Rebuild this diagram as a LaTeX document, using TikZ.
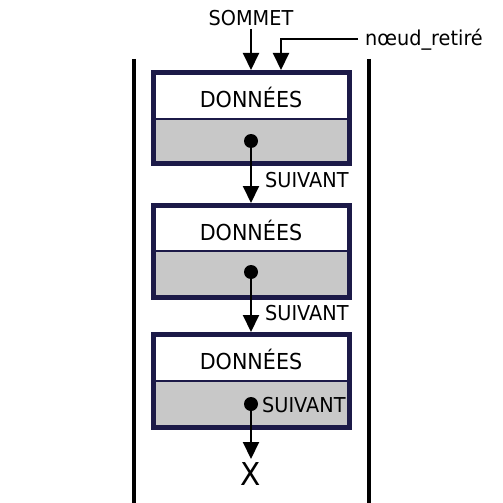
\documentclass[tikz,border=0pt]{standalone}
\usepackage{fontspec}
\setmainfont[FakeStretch=0.94]{DejaVu Sans}
\usetikzlibrary{arrows.meta}
\definecolor{navy}{HTML}{1C1A48}
\definecolor{cellgray}{HTML}{C8C8C8}
\tikzset{
  wall/.style={line width=4.5pt},
  link/.style={line width=2pt,-{Triangle[length=17pt,width=16pt]}},
  dot/.style={circle,fill=black,inner sep=0pt,minimum size=14pt},
  lbl/.style={font=\fontsize{20.5}{20.5}\selectfont,inner sep=0pt},
  datalbl/.style={font=\fontsize{22}{22}\selectfont,inner sep=0pt},
}
\begin{document}
\begin{tikzpicture}[x=1pt,y=-1pt]
\useasboundingbox (0,0) rectangle (503,503);
% walls
\draw[wall] (134,59) -- (134,503);
\draw[wall] (369,59) -- (369,503);
% boxes
\foreach \t/\m/\b/\n in {72/119/163/1,205/251/297/2,334/381/427/3}{
  \fill[cellgray] (153,\m) rectangle (349,\b);
  \draw[navy,line width=1.8pt] (153,\m) -- (349,\m);
  \draw[navy,line width=5pt] (153,\t) rectangle (349,\b);
  \node[datalbl] (d\n) at (251,{(\t+\m)/2+2}) {DONNÉES};
}
\node[dot] (p1) at (251,141) {};
\node[dot] (p2) at (251,272) {};
\node[dot] (p3) at (251,404) {};
\coordinate (t2) at (251,203);
\coordinate (t3) at (251,332);
\draw[link] (p1.center) -- (t2);
\draw[link] (p2.center) -- (t3);
\node[lbl,anchor=west] (s1) at (265,180) {SUIVANT};
\node[lbl,anchor=west] (s2) at (265,313) {SUIVANT};
\node[lbl,anchor=west] (s3) at (262,405) {SUIVANT};
\node[font=\fontsize{31.5}{31.5}\selectfont,inner sep=0pt] (x) at (251,474) {X};
\draw[link] (p3.center) -- ++(0,55);
% top
\node[lbl] (som) at (251,18) {SOMMET};
\coordinate (t1) at (251,70);
\draw[link] (som.south) ++(0,3) -- (t1);
\node[lbl,anchor=west] (nr) at (365,40) {nœud\_retiré};
\coordinate (t1b) at (281,70);
\draw[link] (nr.west) ++(-7,-1) -| (t1b);
\end{tikzpicture}
\end{document}
